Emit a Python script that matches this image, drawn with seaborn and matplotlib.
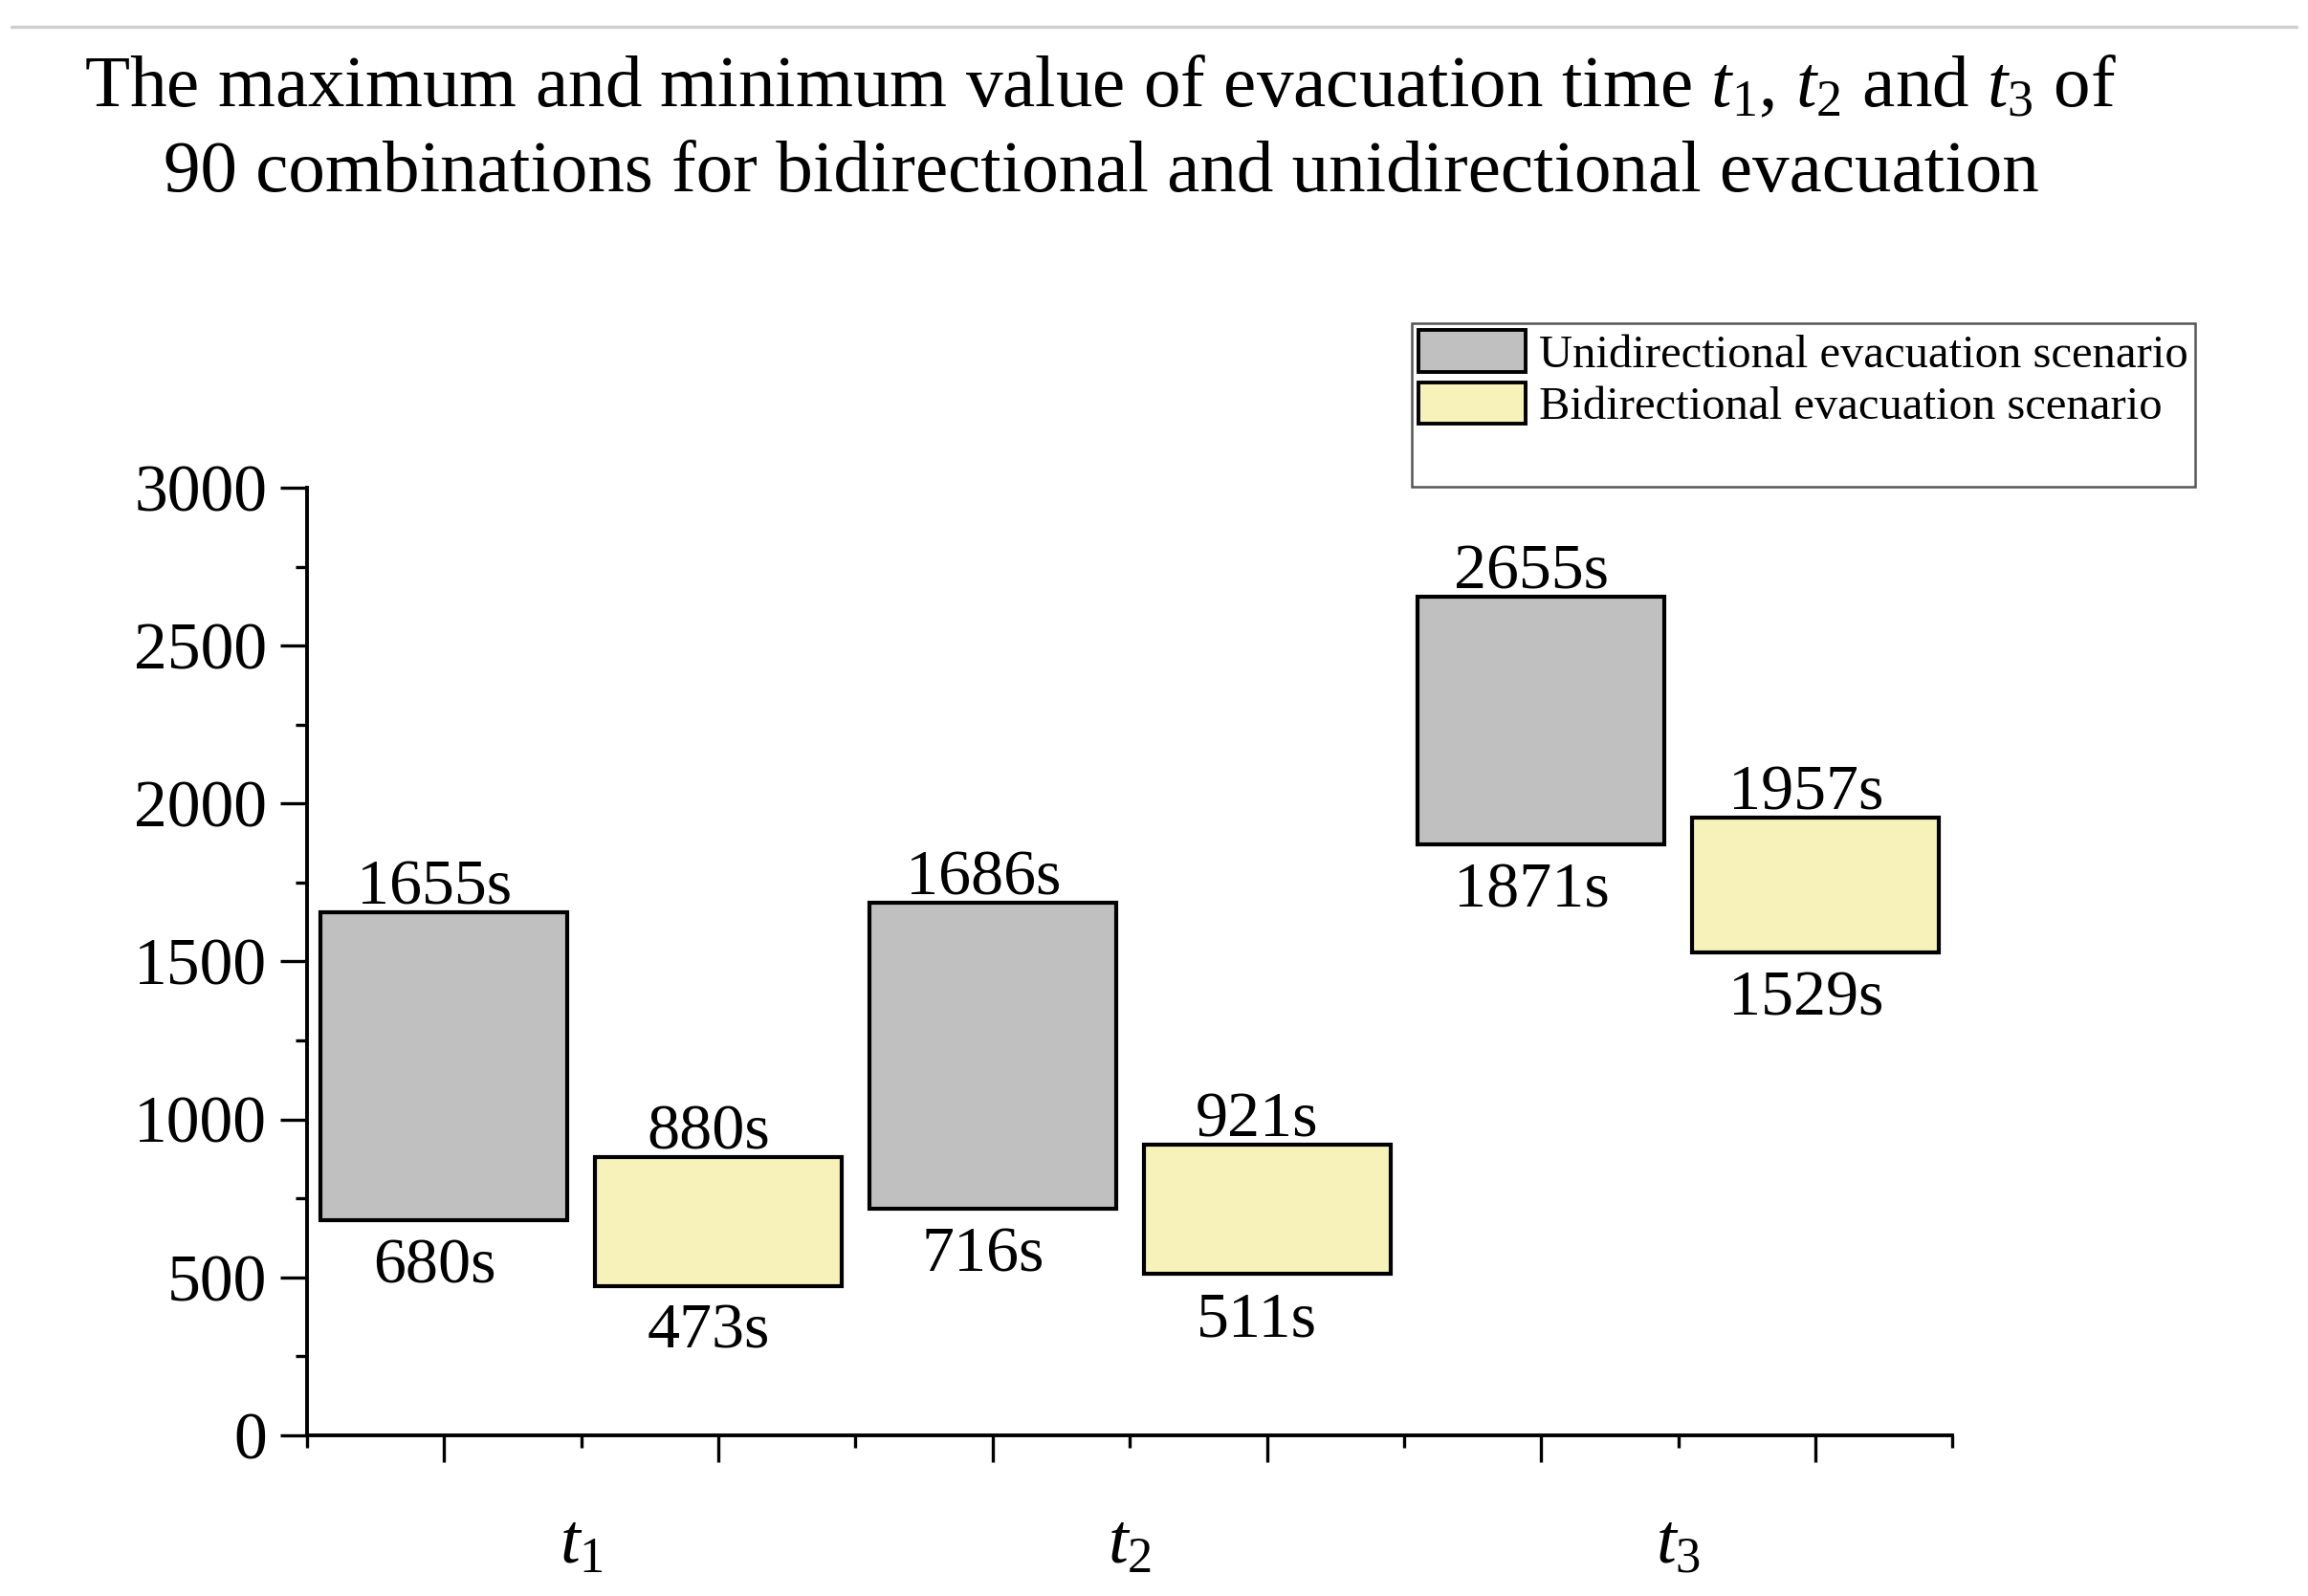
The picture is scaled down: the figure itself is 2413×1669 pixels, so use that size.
import matplotlib
matplotlib.use("Agg")
import matplotlib.pyplot as plt
from matplotlib.patches import Patch
from matplotlib.lines import Line2D
import seaborn as sns
import pandas as pd

# values (seconds)
times = ["t1", "t2", "t3"]
tick_names = [r"$t_1$", r"$t_2$", r"$t_3$"]
uni_max = [1655, 1686, 2655]
uni_min = [680, 716, 1871]
bi_max = [880, 921, 1957]
bi_min = [473, 511, 1529]

uni_color = "#C0C0C0"
bi_color = "#F6F2B9"

sns.set_style("ticks")
plt.rcParams["font.family"] = ["Liberation Serif", "DejaVu Serif"]
plt.rcParams["mathtext.fontset"] = "custom"
plt.rcParams["mathtext.rm"] = "Liberation Serif"
plt.rcParams["mathtext.it"] = "Liberation Serif:italic"
for key in ["text.color", "axes.labelcolor", "xtick.color", "ytick.color"]:
    plt.rcParams[key] = "black"

fig = plt.figure(figsize=(24.13, 16.69), dpi=100)
ax = fig.add_axes([0.133, 0.1007, 0.713, 0.5937])

# each time slot gets two floating bars: unidirectional then bidirectional
uni_pos = [4 * i + 1 for i in range(len(times))]
bi_pos = [4 * i + 3 for i in range(len(times))]

uni_df = pd.DataFrame({"pos": uni_pos, "lo": uni_min, "hi": uni_max})
bi_df = pd.DataFrame({"pos": bi_pos, "lo": bi_min, "hi": bi_max})
for df, color in [(uni_df, uni_color), (bi_df, bi_color)]:
    df["span"] = df["hi"] - df["lo"]
    sns.barplot(data=df, x="pos", y="span", bottom=df["lo"].values,
                native_scale=True, width=0.45, color=color, saturation=1,
                edgecolor="black", linewidth=3, errorbar=None, ax=ax)

    for _, row in df.iterrows():
        ax.annotate(f"{row['hi']}s", xy=(row["pos"] - 0.07, row["hi"]), xytext=(0, 6),
                    textcoords="offset points", ha="center", va="baseline",
                    fontsize=49)
        ax.annotate(f"{row['lo']}s", xy=(row["pos"] - 0.07, row["lo"]), xytext=(0, -47),
                    textcoords="offset points", ha="center", va="baseline",
                    fontsize=49)

ax.set_xlim(0, 12)
ax.set_ylim(0, 3000)
ax.set_xlabel("")
ax.set_ylabel("")

ax.set_yticks(range(0, 3001, 500))
ax.set_yticks(range(250, 3000, 500), minor=True)
ax.set_xticks(uni_pos + bi_pos, labels=[""] * 6)
minor_x = list(range(0, 13, 2))
minor_lbl = ["" for _ in minor_x]
for i, name in enumerate(tick_names):
    minor_lbl[minor_x.index(4 * i + 2)] = name
ax.set_xticks(minor_x, labels=minor_lbl, minor=True)

ax.tick_params(axis="both", which="major", direction="out", length=20,
               width=2.4, labelsize=50, color="black")
ax.tick_params(axis="both", which="minor", direction="out", length=9,
               width=2.4, labelsize=50, color="black")
ax.tick_params(axis="y", which="major", pad=10)
ax.tick_params(axis="x", which="minor", pad=50, labelsize=54)

sns.despine(ax=ax)
for side in ["left", "bottom"]:
    ax.spines[side].set_linewidth(2.8)
    ax.spines[side].set_color("black")

handles = [
    Patch(facecolor=uni_color, edgecolor="black", linewidth=2.8),
    Patch(facecolor=bi_color, edgecolor="black", linewidth=2.8),
    Patch(facecolor="none", edgecolor="none"),
]
labels = ["Unidirectional evacuation scenario", "Bidirectional evacuation scenario", " "]
leg = ax.legend(handles, labels, loc="upper left", bbox_to_anchor=(0.6115, 0.7975),
                bbox_transform=fig.transFigure, fontsize=35, frameon=True,
                fancybox=False, framealpha=1, edgecolor="#555555",
                handlelength=2.3, handleheight=1.0, handletextpad=0.3,
                borderpad=0.15, labelspacing=0.12, borderaxespad=0)
leg.get_frame().set_linewidth(1.8)

fig.text(0.477, 0.918,
         "The maximum and minimum value of evacuation time $t_1$, $t_2$ and $t_3$ of\n"
         "90 combinations for bidirectional and unidirectional evacuation",
         ha="center", va="center", fontsize=55.5, linespacing=1.38)

fig.add_artist(Line2D([0.005, 0.995], [0.983, 0.983], transform=fig.transFigure,
                      color="#CFCFCF", linewidth=2.5))

fig.savefig("out.png", dpi=100)
